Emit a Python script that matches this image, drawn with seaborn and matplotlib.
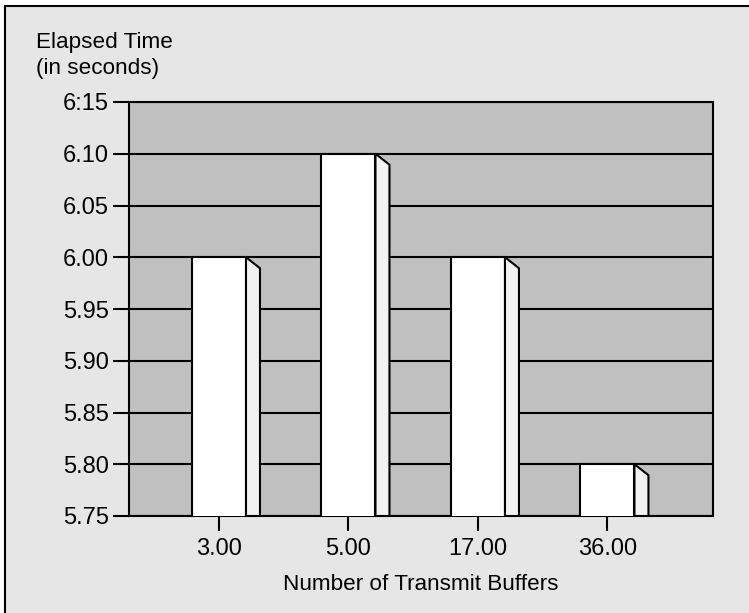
import numpy as np
import pandas as pd
import seaborn as sns
import matplotlib.pyplot as plt
from matplotlib.patches import Polygon, Rectangle

categories = ["3.00", "5.00", "17.00", "36.00"]
elapsed = [6.00, 6.10, 6.00, 5.80]
ytick_values = [5.75, 5.80, 5.85, 5.90, 5.95, 6.00, 6.05, 6.10, 6.15]
ytick_labels = ["5.75", "5.80", "5.85", "5.90", "5.95", "6.00", "6.05", "6.10", "6:15"]

df = pd.DataFrame({"Buffers": categories, "Elapsed": elapsed})

sns.set_style("white")
plt.rcParams["font.family"] = ["Liberation Sans", "DejaVu Sans"]
plt.rcParams["text.color"] = "black"
plt.rcParams["axes.labelcolor"] = "black"

W, H = 749, 613
fig = plt.figure(figsize=(W / 100, H / 100), dpi=100, facecolor="white")

# panel background with the frame line on left/top
fig.patches.append(Rectangle((5 / W, -0.1), 1.2, 1.1 - 6 / H, transform=fig.transFigure,
                             facecolor="#e6e6e6", edgecolor="black", linewidth=1.5, zorder=-1))

ax = fig.add_axes([129 / W, (H - 516) / H, 584 / W, 414 / H])
ax.set_facecolor("#c0c0c0")

sns.barplot(data=df, x="Buffers", y="Elapsed", ax=ax, color="white", width=0.417,
            edgecolor="black", linewidth=1.5, saturation=1, zorder=3)

ax.set_ylim(5.75, 6.15)
ax.set_xlim(-0.695, 3.815)

# 3d side faces
depth_x = 0.108
depth_y = 0.0106
for bar in list(ax.patches):
    x1 = bar.get_x() + bar.get_width()
    top = bar.get_y() + bar.get_height()
    side = Polygon([(x1, 5.75), (x1, top), (x1 + depth_x, top - depth_y), (x1 + depth_x, 5.75)],
                   closed=True, facecolor="#f2f2f2", edgecolor="black", linewidth=1.5, zorder=3)
    ax.add_patch(side)

ax.set_yticks(ytick_values, ytick_labels)
ax.yaxis.grid(True, color="black", linewidth=1.5)
ax.set_axisbelow(True)

for s in ax.spines.values():
    s.set_visible(True)
    s.set_color("black")
    s.set_linewidth(1.5)

ax.tick_params(axis="y", left=True, direction="out", length=11.5, width=1.5, pad=3,
               labelsize=17, colors="black")
ax.tick_params(axis="x", bottom=True, direction="out", length=11, width=1.5, pad=5,
               labelsize=17, colors="black")
ax.set_xlabel("Number of Transmit Buffers", fontsize=16.2, labelpad=10)
ax.set_ylabel("")

fig.text(36 / W, 1 - 32 / H, "Elapsed Time\n(in seconds)", fontsize=16.2, va="top", ha="left",
         linespacing=1.3, color="black")

fig.savefig("out.png", dpi=100, facecolor=fig.get_facecolor())
